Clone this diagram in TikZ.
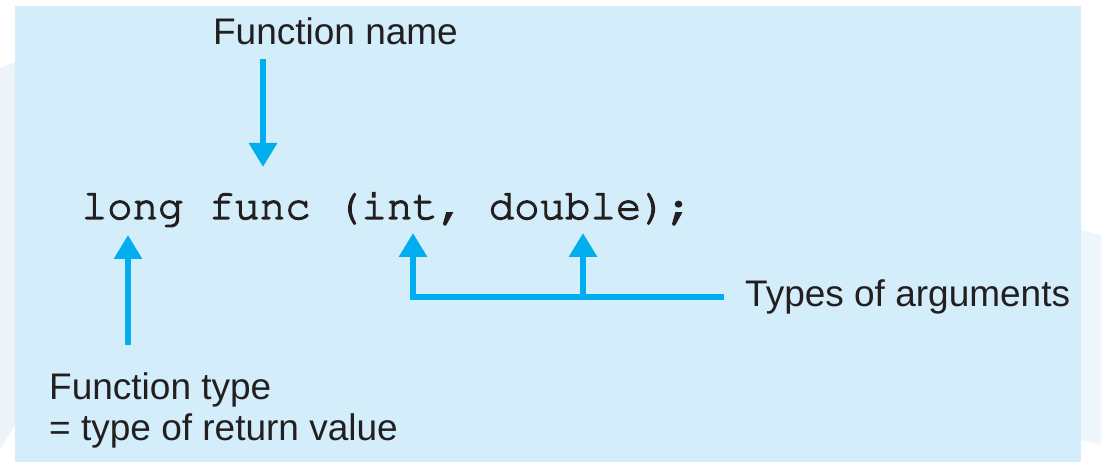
\documentclass[tikz,border=0pt]{standalone}
\usepackage[T1]{fontenc}
\usepackage{fontspec}
\setmainfont{Liberation Sans}
\usetikzlibrary{arrows.meta,positioning}

\definecolor{panelblue}{HTML}{D3EEFA}
\definecolor{arrowblue}{HTML}{00AEEF}
\definecolor{textgray}{HTML}{231F20}
\definecolor{edgegray}{HTML}{EEF3F7}
\definecolor{edgeblue}{HTML}{EEF7FC}

\newcommand{\codefont}{\fontencoding{T1}\fontfamily{pcr}\fontsize{42.4}{48}\selectfont}
% a little heavier than the regular cut
\newcommand{\heavier}[1]{\special{pdf:literal 2 Tr 1.2 w}#1\special{pdf:literal 0 Tr}}

\begin{document}
\begin{tikzpicture}[x=1pt,y=-1pt,>={Triangle[width=27pt,length=24pt]},
	arr/.style={arrowblue,line width=6pt,->},
	lbl/.style={text=textgray,font=\fontsize{37}{41}\selectfont,inner sep=0pt,align=left},
	codetxt/.style={text=textgray,font=\codefont,inner sep=0pt}]
	
	\useasboundingbox (0,0) rectangle (1101,462);
	
	% faint page edges round the panel
	\fill[edgegray] (0,68) -- (15,62) -- (15,425) -- (0,450) -- cycle;
	\fill[edgeblue] (1081,230) -- (1101,235) -- (1101,445) -- (1081,440) -- cycle;
	
	% the panel
	\fill[panelblue] (15,6) rectangle (1081,462);
	
	% the declaration
	\node[codetxt,anchor=base west] (code) at (81.5,219) {\heavier{long func (int, double);}};
	
	% labels
	\node[lbl,anchor=base] (fname) at (335.5,45) {Function name};
	\node[lbl,anchor=north west] (ftype) at (49,372.5) {Function type\\= type of return value};
	\node[lbl,anchor=base west] (args) at (745,307) {Types of arguments};
	
	% arrow tips under and over the code
	\coordinate (nametip) at (263,167);
	\coordinate (longtip) at (128,235);
	\coordinate (inttip) at (413,233);
	\coordinate (dbltip) at (583,233);
	
	% arrows
	\draw[arr] (fname.south -| nametip) ++(0,13) -- (nametip);
	\draw[arr] (ftype.north -| longtip) ++(0,-27.5) -- (longtip);
	\draw[arr] ([xshift=-21pt]args.west) -| (inttip);
	\draw[arr] (dbltip |- args.west) -- (dbltip);
	
\end{tikzpicture}
\end{document}
